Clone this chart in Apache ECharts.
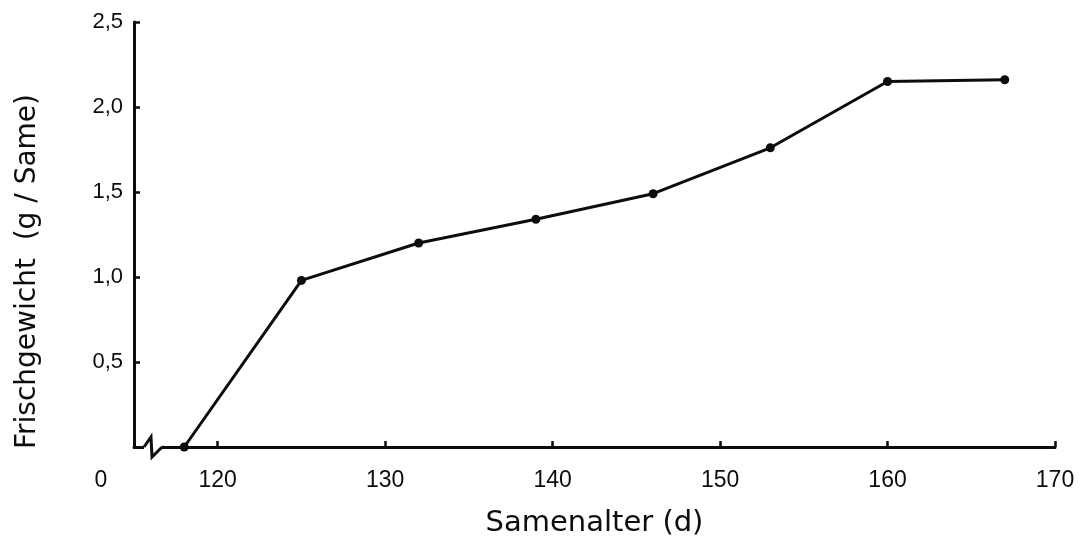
<!DOCTYPE html>
<html>
<head>
<meta charset="utf-8">
<script src="https://cdn.jsdelivr.net/npm/echarts@6/dist/echarts.min.js"></script>
<style>
  html, body { margin: 0; padding: 0; background: #fff; }
  #chart { width: 1081px; height: 547px; }
</style>
</head>
<body>
<div id="chart"></div>
<script>
// seed age (days) and fresh weight (g per seed)
const ageDays = [118, 125, 132, 139, 146, 153, 160, 167]
const freshWeight = [0, 0.98, 1.2, 1.34, 1.49, 1.76, 2.15, 2.16]
const xTickValues = [120, 130, 140, 150, 160, 170]
const xLabelValues = [115, 120, 130, 140, 150, 160, 170]  // 115 = axis origin, shown as "0"

const ink = '#0d0d0d'
const tickFont = 'Liberation Sans, Arial, sans-serif'
const titleFont = 'DejaVu Sans, sans-serif'

const chart = echarts.init(document.getElementById('chart'))

const option = {
  animation: false,
  backgroundColor: '#fff',
  grid: { left: 134, right: 26, top: 22, bottom: 100 },
  xAxis: {
    type: 'value',
    min: 115,
    max: 170,
    name: 'Samenalter (d)',
    nameLocation: 'middle',
    nameGap: 62,
    nameTextStyle: { fontFamily: titleFont, fontSize: 29, color: ink },
    axisLine: { lineStyle: { color: ink, width: 3 } },
    axisTick: { inside: true, length: 6, customValues: xTickValues, lineStyle: { color: ink, width: 2.5 } },
    axisLabel: {
      customValues: xLabelValues,
      margin: 22,
      fontFamily: tickFont,
      fontSize: 23,
      color: ink,
      formatter: v => v === 115 ? '{z|0}' : String(v),
      rich: { z: { fontFamily: tickFont, fontSize: 23, color: ink, padding: [0, 66, 0, 0] } }
    },
    splitLine: { show: false }
  },
  yAxis: {
    type: 'value',
    min: 0,
    max: 2.5,
    interval: 0.5,
    name: 'Frischgewicht  (g / Same)',
    nameLocation: 'middle',
    nameGap: 92,
    nameTextStyle: { fontFamily: titleFont, fontSize: 28, color: ink, padding: [0, 74, 0, 0] },
    axisLine: { show: true, lineStyle: { color: ink, width: 3 } },
    axisTick: { show: true, inside: true, length: 6, lineStyle: { color: ink, width: 2.5 } },
    axisLabel: {
      margin: 11,
      fontFamily: tickFont,
      fontSize: 22,
      color: ink,
      padding: [4, 0, 0, 0],
      showMinLabel: false,
      formatter: v => v === 0 ? '' : v.toFixed(1).replace('.', ',')
    },
    splitLine: { show: false }
  },
  series: [{
    type: 'line',
    data: ageDays.map((d, i) => [d, freshWeight[i]]),
    symbol: 'circle',
    symbolSize: 9,
    lineStyle: { color: ink, width: 3 },
    itemStyle: { color: ink },
    z: 3
  }]
}

chart.setOption(option)

// axis break (zigzag) just right of the origin
const o = chart.convertToPixel({ gridIndex: 0 }, [115, 0])
chart.setOption({
  graphic: [
    { type: 'rect', shape: { x: o[0] + 10, y: o[1] - 4, width: 19, height: 8 }, style: { fill: '#fff' }, z: 10 },
    {
      type: 'polyline',
      shape: { points: [[o[0] + 10, o[1]], [o[0] + 17, o[1] - 10], [o[0] + 18, o[1] + 10], [o[0] + 27, o[1] + 1], [o[0] + 30, o[1]]] },
      style: { stroke: ink, lineWidth: 3, fill: null },
      z: 11
    }
  ]
})
</script>
</body>
</html>
